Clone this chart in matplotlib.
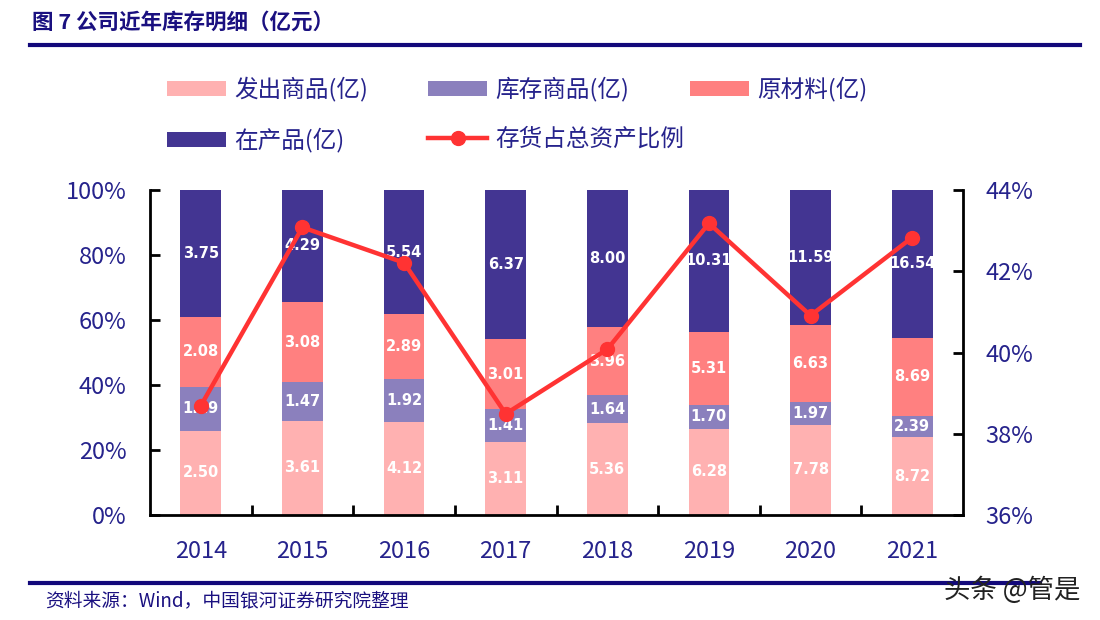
import matplotlib
matplotlib.use("Agg")
import matplotlib.pyplot as plt
import numpy as np
from matplotlib.patches import Patch
from matplotlib.lines import Line2D

plt.rcParams['font.family'] = ['Noto Sans CJK SC', 'DejaVu Sans']

# dados
anos = ["2014", "2015", "2016", "2017", "2018", "2019", "2020", "2021"]
fachu = [2.50, 3.61, 4.12, 3.11, 5.36, 6.28, 7.78, 8.72]       # 发出商品
kucun = [1.29, 1.47, 1.92, 1.41, 1.64, 1.70, 1.97, 2.39]       # 库存商品
yuancailiao = [2.08, 3.08, 2.89, 3.01, 3.96, 5.31, 6.63, 8.69]  # 原材料
zaichan = [3.75, 4.29, 5.54, 6.37, 8.00, 10.31, 11.59, 16.54]  # 在产品
ratio = [38.69, 43.08, 42.21, 38.49, 40.08, 43.18, 40.91, 42.83]  # 存货占总资产比例 (%)

series = [
    ("发出商品(亿)", fachu, "#FFB1B1"),
    ("库存商品(亿)", kucun, "#8B80BD"),
    ("原材料(亿)", yuancailiao, "#FF8080"),
    ("在产品(亿)", zaichan, "#433592"),
]

NAVY = "#26238C"
LINE_RED = "#FF3333"

fig = plt.figure(figsize=(11, 6.2), dpi=100)
ax = fig.add_axes([150 / 1100, 1 - 515 / 620, (963 - 150) / 1100, (515 - 190) / 620])

x = np.arange(len(anos))
total = np.sum([s[1] for s in series], axis=0)
bottom = np.zeros(len(anos))
for nome, vals, cor in series:
    pct = np.array(vals) / total * 100
    ax.bar(x, pct, width=0.40, bottom=bottom, color=cor, label=nome)
    for xi, b, p, v in zip(x, bottom, pct, vals):
        ax.text(xi, b + p / 2, f"{v:.2f}", ha="center", va="center",
                color="white", fontsize=10.5, fontweight="bold", family="DejaVu Sans")
    bottom += pct

ax.set_xlim(-0.5, len(anos) - 0.5)
ax.set_ylim(0, 100)
ax.set_yticks(np.arange(0, 101, 20))
ax.set_yticklabels([f"{v}%" for v in range(0, 101, 20)])
ax.set_xticks(x)
ax.set_xticklabels(anos)
ax.set_xticks(np.arange(0.5, len(anos) - 1, 1), minor=True)
ax.tick_params(axis="x", which="major", length=0, pad=18, labelsize=17, labelcolor=NAVY)
ax.tick_params(axis="x", which="minor", direction="in", length=7, width=2)
ax.tick_params(axis="y", direction="in", length=7, width=2, pad=17,
               labelsize=17, labelcolor=NAVY)
for lado in ["left", "bottom"]:
    ax.spines[lado].set_linewidth(2)
ax.spines["top"].set_visible(False)
ax.spines["right"].set_visible(False)

ax2 = ax.twinx()
ax2.plot(x, ratio, color=LINE_RED, linewidth=3.2, marker="o", markersize=10)
ax2.set_ylim(36, 44)
ax2.set_yticks(np.arange(36, 45, 2))
ax2.set_yticklabels([f"{v}%" for v in range(36, 45, 2)])
ax2.tick_params(axis="y", direction="in", length=7, width=2, pad=16,
                labelsize=17, labelcolor=NAVY)
ax2.spines["right"].set_linewidth(2)
ax2.spines["top"].set_visible(False)
ax2.spines["left"].set_visible(False)
ax2.spines["bottom"].set_visible(False)

# legenda: uma coluna por vez, posicionada manualmente
def h_patch(cor):
    return Patch(facecolor=cor, edgecolor="none")

h_line = Line2D([], [], color=LINE_RED, linewidth=3.2, marker="o", markersize=10)
colunas = [
    (167, [h_patch(series[0][2]), h_patch(series[3][2])], [series[0][0], series[3][0]]),
    (428, [h_patch(series[1][2]), h_line], [series[1][0], "存货占总资产比例"]),
    (690, [h_patch(series[2][2])], [series[2][0]]),
]
for xpx, hs, ls in colunas:
    leg = fig.legend(hs, ls, loc="upper left", bbox_to_anchor=(xpx / 1100, 1 - 77 / 620),
                     frameon=False, fontsize=17, handlelength=2.5, handleheight=0.6,
                     handletextpad=0.35, labelspacing=1.1, borderaxespad=0, borderpad=0)
    for t in leg.get_texts():
        t.set_color(NAVY)

# titulo e rodape
fig.text(32 / 1100, 1 - 22 / 620, "图 7 公司近年库存明细（亿元）", ha="left", va="center",
         fontsize=15.5, fontweight="bold", color="#1A1080")
fig.add_artist(Line2D([30 / 1100, 1080 / 1100], [1 - 45 / 620] * 2, color="#12087A", linewidth=3))
fig.add_artist(Line2D([30 / 1100, 1040 / 1100], [1 - 583 / 620] * 2, color="#12087A", linewidth=3))
fig.text(45 / 1100, 1 - 601 / 620, "资料来源：Wind，中国银河证券研究院整理", ha="left", va="center",
         fontsize=13.5, color="#1A1080", style="italic")
fig.text(1080 / 1100, 1 - 590 / 620, "头条 @管是", ha="right", va="center",
         fontsize=19, color="#222222")

fig.savefig("out.png", dpi=100, facecolor="white")
